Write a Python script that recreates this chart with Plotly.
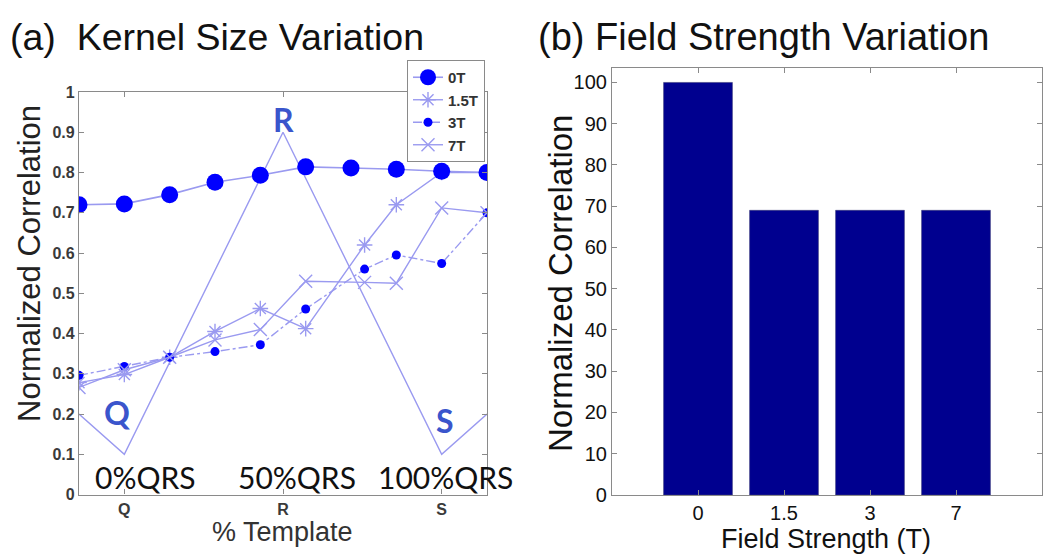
import plotly.graph_objects as go

# ---------------- data ----------------
# panel (a): kernel size variation
x_idx = [1, 2, 3, 4, 5, 6, 7, 8, 9, 10]
x_idx_b = [1, 2, 3, 4, 5, 6, 7.3, 8, 9, 10]
corr_0T = [0.72, 0.722, 0.745, 0.776, 0.793, 0.814, 0.811, 0.808, 0.803, 0.80]
corr_15T = [0.278, 0.298, 0.341, 0.405, 0.462, 0.412, 0.62, 0.72, 0.80, 0.80]
corr_3T = [0.296, 0.318, 0.341, 0.355, 0.372, 0.461, 0.56, 0.595, 0.574, 0.70]
corr_7T = [0.266, 0.31, 0.341, 0.384, 0.41, 0.53, 0.527, 0.525, 0.712, 0.70]
qrs_x = [1, 2, 5.5, 9, 10]
qrs_y = [0.2, 0.1, 0.9, 0.1, 0.2]
xtick_vals_a = [2, 5.5, 9]
xtick_text_a = ["Q", "R", "S"]
yticks_a = [0, 0.1, 0.2, 0.3, 0.4, 0.5, 0.6, 0.7, 0.8, 0.9, 1]
ytick_text_a = ["0", "0.1", "0.2", "0.3", "0.4", "0.5", "0.6", "0.7", "0.8", "0.9", "1"]

# panel (b): field strength variation
field_labels = ["0", "1.5", "3", "7"]
field_pos = [0, 1, 2, 3]
field_corr = [100, 69, 69, 69]

# ---------------- styling ----------------
BLUE = "#0000ff"
LIGHT = "#9a9af0"
FRAME = "#8a8a8a"
W, H = 1050, 555

def px_x(p):
    return p / W

def px_y(p):
    return (H - p) / H

fig = go.Figure()

fig.add_trace(go.Scatter(x=qrs_x, y=qrs_y, mode="lines",
                         line=dict(color=LIGHT, width=1.4),
                         showlegend=False, hoverinfo="skip",
                         xaxis="x", yaxis="y"))
fig.add_trace(go.Scatter(x=x_idx_b, y=corr_15T, mode="lines+markers", name="1.5T",
                         legendrank=2,
                         line=dict(color=LIGHT, width=1.4),
                         marker=dict(symbol="asterisk-open", size=13,
                                     line=dict(color=LIGHT, width=1.4)),
                         xaxis="x", yaxis="y"))
fig.add_trace(go.Scatter(x=x_idx_b, y=corr_3T, mode="lines+markers", name="3T",
                         legendrank=3,
                         line=dict(color=LIGHT, width=1.4, dash="dashdot"),
                         marker=dict(symbol="circle", size=9, color=BLUE),
                         xaxis="x", yaxis="y"))
fig.add_trace(go.Scatter(x=x_idx_b, y=corr_7T, mode="lines+markers", name="7T",
                         legendrank=4,
                         line=dict(color=LIGHT, width=1.4),
                         marker=dict(symbol="x-thin-open", size=13,
                                     line=dict(color=LIGHT, width=1.4)),
                         xaxis="x", yaxis="y"))
fig.add_trace(go.Scatter(x=x_idx, y=corr_0T, mode="lines+markers", name="0T",
                         legendrank=1,
                         line=dict(color=LIGHT, width=1.6),
                         marker=dict(symbol="circle", size=17, color=BLUE),
                         xaxis="x", yaxis="y"))

fig.add_trace(go.Bar(x=field_pos, y=field_corr, width=0.8,
                     marker=dict(color="#00008f", line=dict(color="#3a3a7a", width=0.6)),
                     showlegend=False, xaxis="x2", yaxis="y2"))

axis_common = dict(showline=True, linecolor=FRAME, linewidth=1.2, mirror="ticks",
                   ticks="inside", ticklen=5, tickcolor=FRAME, showgrid=False,
                   zeroline=False, automargin=False)

fig.update_layout(
    template="none",
    width=W, height=H, autosize=False,
    margin=dict(l=0, r=0, t=0, b=0, pad=0, autoexpand=False),
    paper_bgcolor="white", plot_bgcolor="white",
    font=dict(family="Liberation Sans, Arial, sans-serif", color="#222"),
    xaxis=dict(domain=[px_x(79), px_x(487)], range=[1, 10],
               tickvals=xtick_vals_a, ticktext=xtick_text_a,
               tickfont=dict(size=16, color="#3a3a3a", weight="bold"),
               anchor="y", **axis_common),
    yaxis=dict(domain=[px_y(494.5), px_y(92)], range=[0, 1],
               tickvals=yticks_a, ticktext=ytick_text_a,
               tickfont=dict(size=16, color="#3a3a3a", weight="bold"),
               anchor="x", **axis_common),
    xaxis2=dict(domain=[px_x(612), px_x(1042)], range=[-1, 4],
                tickvals=field_pos, ticktext=field_labels,
                tickfont=dict(size=20, color="#111"), anchor="y2", **axis_common),
    yaxis2=dict(domain=[px_y(495), px_y(68)], range=[0, 103.5],
                tickvals=list(range(0, 101, 10)),
                tickfont=dict(size=20, color="#111"), anchor="x2", **axis_common),
    legend=dict(x=px_x(407), y=px_y(60), xanchor="left", yanchor="top",
                bgcolor="white", bordercolor=FRAME, borderwidth=1,
                font=dict(size=15, color="#333", weight="bold"),
                tracegroupgap=0, itemwidth=30),
    showlegend=True,
)

ann = []
def add_text(text, x, y, size, color, family=None, angle=0, xanchor="center"):
    f = dict(size=size, color=color)
    if family:
        f["family"] = family
    ann.append(dict(text=text, x=px_x(x), y=px_y(y), xref="paper", yref="paper",
                    xanchor=xanchor, yanchor="middle", showarrow=False,
                    textangle=angle, font=f))

# panel titles
add_text("(a)&nbsp;&nbsp;Kernel Size Variation", 8, 37, 37.5, "#111", xanchor="left")
add_text("(b) Field Strength Variation", 536, 37, 38, "#111", xanchor="left")
# axis titles
add_text("Normalized Correlation", 29, 264, 31, "#222", angle=-90)
add_text("% Template", 282, 532, 27, "#333")
add_text("Normalized Correlation", 560, 284, 33, "#111", angle=-90)
add_text("Field Strength (T)", 826, 539, 27, "#111")
# QRS letters
for t, xx, yy in [("R", 283, 119), ("Q", 117, 412), ("S", 445, 420)]:
    add_text("<b>" + t + "</b>", xx, yy, 32, "#3a55cc", family="Lato, sans-serif")
# %QRS labels
for t, xx in [("0%QRS", 145), ("50%QRS", 297), ("100%QRS", 445)]:
    add_text(t, xx, 477, 30, "#111", family="Lato, sans-serif")

fig.update_layout(annotations=ann)
fig.write_html("out.html", config={"displayModeBar": False},
               post_script="document.body.style.margin='0';document.body.style.padding='0';")
